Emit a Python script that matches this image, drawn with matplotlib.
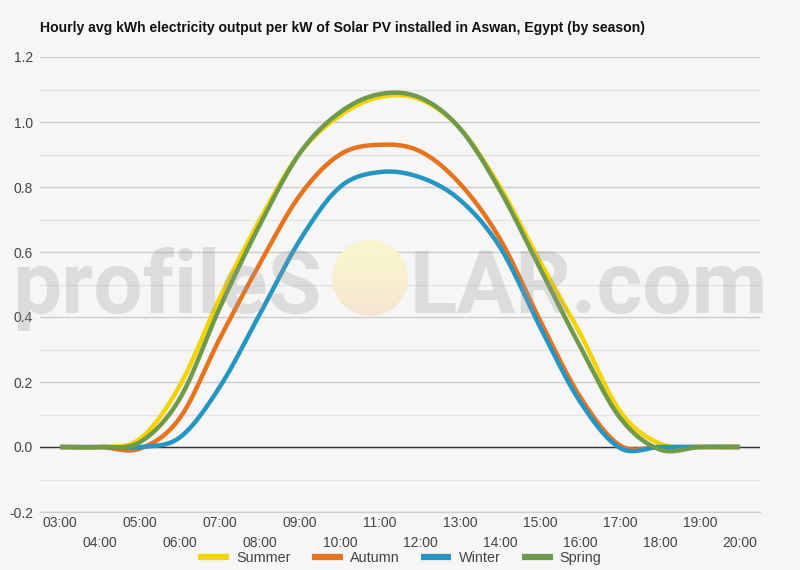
import numpy as np
import matplotlib
matplotlib.use('Agg')
import matplotlib.pyplot as plt
from matplotlib.patches import Circle

plt.rcParams['font.family'] = ['Liberation Sans', 'DejaVu Sans']

hours = ['03:00', '04:00', '05:00', '06:00', '07:00', '08:00', '09:00', '10:00', '11:00',
         '12:00', '13:00', '14:00', '15:00', '16:00', '17:00', '18:00', '19:00', '20:00']
summer = [0, 0, 0.025, 0.19, 0.46, 0.70, 0.905, 1.02, 1.077, 1.07, 0.98, 0.80, 0.57, 0.35, 0.11, 0.01, 0, 0]
autumn = [0, 0, -0.005, 0.09, 0.335, 0.565, 0.775, 0.90, 0.93, 0.91, 0.81, 0.64, 0.39, 0.155, 0.005, 0, 0, 0]
winter = [0, 0, 0, 0.03, 0.186, 0.41, 0.637, 0.80, 0.846, 0.83, 0.76, 0.615, 0.37, 0.14, -0.003, 0, 0, 0]
spring = [0, 0, 0.015, 0.15, 0.43, 0.685, 0.905, 1.03, 1.086, 1.075, 0.98, 0.79, 0.55, 0.31, 0.09, -0.008, 0, 0]

series = [('Summer', summer, '#f5d300'),
          ('Autumn', autumn, '#e8731e'),
          ('Winter', winter, '#2596c4'),
          ('Spring', spring, '#6f9a4c')]

bg = '#f6f6f6'


def smooth(ys, n=24):
    # catmull-rom style curve through the hourly points (just for drawing)
    y = np.asarray(ys, dtype=float)
    x = np.arange(len(y), dtype=float)
    yp = np.concatenate([[y[0]], y, [y[-1]]])
    xo, yo = [], []
    for i in range(len(y) - 1):
        p0, p1, p2, p3 = yp[i], yp[i + 1], yp[i + 2], yp[i + 3]
        t = np.linspace(0, 1, n, endpoint=False)
        m1 = (p2 - p0) / 2
        m2 = (p3 - p1) / 2
        h00 = 2 * t**3 - 3 * t**2 + 1
        h10 = t**3 - 2 * t**2 + t
        h01 = -2 * t**3 + 3 * t**2
        h11 = t**3 - t**2
        yo.append(h00 * p1 + h10 * m1 + h01 * p2 + h11 * m2)
        xo.append(x[i] + t)
    xo.append([x[-1]])
    yo.append([y[-1]])
    return np.concatenate(xo), np.concatenate(yo)


fig = plt.figure(figsize=(8, 5.7), dpi=100, facecolor=bg)
ax = fig.add_axes([40 / 800, (570 - 512) / 570, 720 / 800, 455 / 570])
ax.set_facecolor(bg)

for name, vals, col in series:
    xs, ys = smooth(vals)
    ax.plot(xs, ys, color=col, lw=3.2, label=name, solid_capstyle='butt', zorder=3)

ax.set_xlim(-0.5, len(hours) - 0.5)
ax.set_ylim(-0.2, 1.2)
ax.set_yticks(np.arange(-0.2, 1.21, 0.2))
ax.set_yticklabels(['%.1f' % v for v in np.arange(-0.2, 1.21, 0.2)])
ax.set_yticks(np.arange(-0.1, 1.2, 0.2), minor=True)
ax.grid(axis='y', which='major', color='#cccccc', lw=1, zorder=0)
ax.grid(axis='y', which='minor', color='#e4e4e4', lw=1, zorder=0)
ax.axhline(0, color='#333333', lw=1, zorder=2)
for s in ['top', 'right', 'left']:
    ax.spines[s].set_visible(False)
ax.spines['bottom'].set_color('#cccccc')
ax.set_xticks(range(len(hours)))
ax.set_xticklabels(hours)
ax.tick_params(axis='both', length=0, labelsize=10, labelcolor='#444444')
ax.tick_params(axis='y', which='both', length=0, pad=5)
for i, t in enumerate(ax.xaxis.get_major_ticks()):
    t.set_pad(3 if i % 2 == 0 else 17)

fig.text(40 / 800, 1 - 28 / 570, 'Hourly avg kWh electricity output per kW of Solar PV installed in Aswan, Egypt (by season)',
         fontsize=10.1, fontweight='bold', color='#111111', va='center', ha='left')

# watermark
wm = dict(fontsize=63, fontweight='bold', family=['Roboto', 'Liberation Sans'],
          color=(0.6, 0.6, 0.6), alpha=0.28, va='baseline', zorder=10)
fig.text(322 / 800, (570 - 313) / 570, 'profileS', ha='right', **wm)
fig.text(410 / 800, (570 - 313) / 570, 'LAR.com', ha='left', **wm)
sun_ax = fig.add_axes([(370 - 38) / 800, (570 - 278 - 38) / 570, 76 / 800, 76 / 570])
sun_ax.set_axis_off()
grad = np.linspace(0, 1, 64)[:, None]
cmap = matplotlib.colors.LinearSegmentedColormap.from_list('sun', ['#f9f6cc', '#f8f0cf', '#f6e4d2'])
im = sun_ax.imshow(grad, aspect='auto', cmap=cmap, extent=[0, 1, 1, 0], zorder=1)
clip = Circle((0.5, 0.5), 0.5, transform=sun_ax.transAxes)
im.set_clip_path(clip)
sun_ax.set_xlim(0, 1)
sun_ax.set_ylim(1, 0)

leg = fig.legend(loc='center', bbox_to_anchor=(0.5, 12 / 570), ncol=4, frameon=False,
                 fontsize=10.4, handlelength=2.1, columnspacing=1.5, handletextpad=0.5)
for t in leg.get_texts():
    t.set_color('#444444')
for l in leg.get_lines():
    l.set_linewidth(4.5)

fig.savefig('out.png', dpi=100, facecolor=bg)
